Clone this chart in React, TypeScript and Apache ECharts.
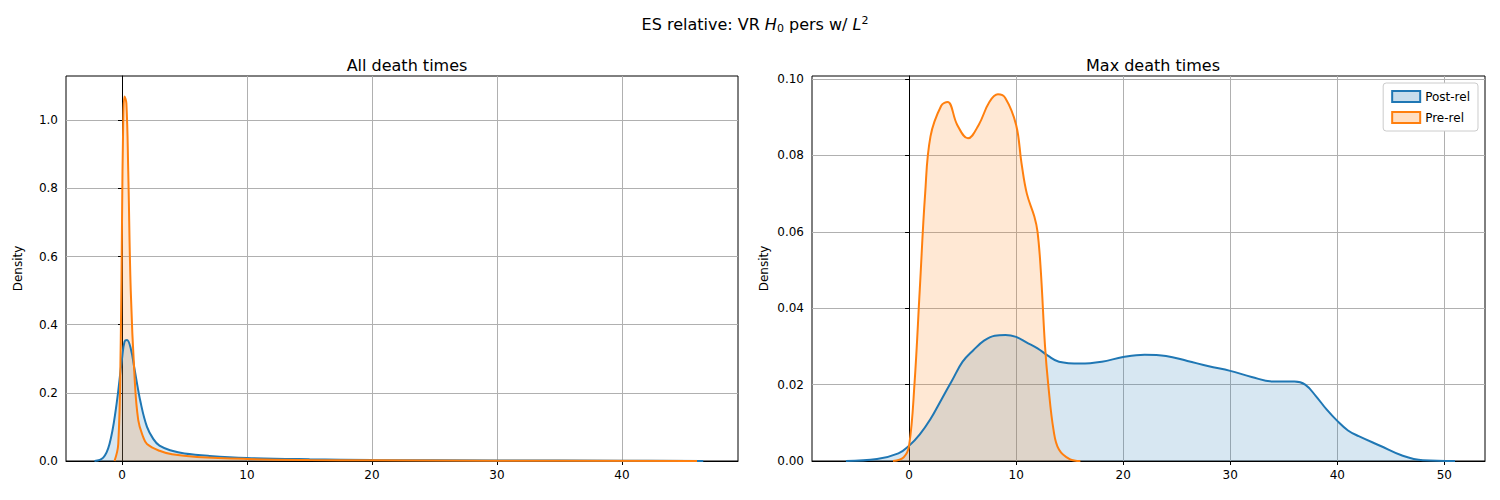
import React, { useEffect, useRef } from 'react';
import * as echarts from 'echarts';

// left panel: all death times
const allPostX = [-2.2, -1.5, -1, -0.5, 0, 0.2, 0.4, 0.7, 1, 1.5, 2, 2.5, 3, 4, 5, 7, 10, 15, 20, 30, 40, 46.5];
const allPostY = [0, 0.01, 0.05, 0.15, 0.3, 0.35, 0.355, 0.33, 0.27, 0.17, 0.1, 0.065, 0.045, 0.03, 0.022, 0.015, 0.009, 0.005, 0.003, 0.0015, 0.001, 0];
const allPreX = [-0.6, -0.3, -0.1, 0, 0.1, 0.2, 0.35, 0.5, 0.7, 1, 1.3, 1.7, 2, 3, 4, 6, 10, 15, 20, 30, 46];
const allPreY = [0, 0.05, 0.35, 0.7, 1.0, 1.07, 1.05, 0.85, 0.5, 0.25, 0.12, 0.07, 0.05, 0.03, 0.02, 0.012, 0.006, 0.003, 0.002, 0.001, 0];

// right panel: max death times
const maxPostX = [-5.9, -3, -1, 0, 1, 2, 3, 4, 5, 6, 7, 8, 9, 10, 11, 12, 13, 14, 16, 18, 20, 22, 24, 26, 28, 30, 32, 34, 36, 37, 38, 39, 40, 41, 42, 44, 46, 48, 51];
const maxPostY = [0, 0.0005, 0.002, 0.004, 0.007, 0.011, 0.016, 0.021, 0.026, 0.029, 0.0315, 0.0328, 0.033, 0.0325, 0.031, 0.0295, 0.0275, 0.026, 0.0255, 0.026, 0.0272, 0.0278, 0.0275, 0.0262, 0.0248, 0.0236, 0.022, 0.0208, 0.0208, 0.02, 0.017, 0.0135, 0.0105, 0.008, 0.0065, 0.004, 0.0015, 0.0002, 0];
const maxPreX = [-1.5, -0.5, 0, 0.5, 1, 1.5, 2, 3, 3.6, 4.5, 5.5, 6.5, 7.5, 8.3, 9, 10, 10.5, 11, 11.7, 12, 12.3, 12.7, 13, 13.5, 14, 15, 16];
const maxPreY = [0, 0.001, 0.004, 0.02, 0.045, 0.07, 0.085, 0.093, 0.094, 0.088, 0.0845, 0.088, 0.094, 0.096, 0.095, 0.088, 0.078, 0.07, 0.064, 0.06, 0.05, 0.03, 0.02, 0.008, 0.003, 0.0005, 0];

const leftXTicks = [0, 10, 20, 30, 40];
const leftYTicks = [0, 0.2, 0.4, 0.6, 0.8, 1.0];
const rightXTicks = [0, 10, 20, 30, 40, 50];
const rightYTicks = [0, 0.02, 0.04, 0.06, 0.08, 0.1];

const BLUE = '#1f77b4';
const ORANGE = '#ff7f0e';
const BLUE_FILL = 'rgba(31,119,180,0.25)';
const ORANGE_FILL = 'rgba(255,127,14,0.25)';

const zip = (xs: number[], ys: number[]) => xs.map((x, i) => [x, ys[i]]);

export default function App() {
  const ref = useRef<HTMLDivElement>(null);
  useEffect(() => {
    if (!ref.current) return;
    const chart = echarts.init(ref.current, null, { renderer: 'svg' });
    const font = 'DejaVu Sans';
    const xAxis = (idx: number, min: number, max: number, ticks: number[]) => ({
      type: 'value', gridIndex: idx, min, max,
      axisLine: { show: true, onZero: false, lineStyle: { color: '#000' } },
      axisTick: { show: true, customValues: ticks, length: 4, lineStyle: { color: '#000' } },
      axisLabel: { customValues: ticks, color: '#000', fontSize: 12, fontFamily: font },
      splitLine: { show: true, lineStyle: { color: '#b0b0b0' } },
    });
    const yAxis = (idx: number, max: number, ticks: number[], fmt: (v: number) => string) => ({
      type: 'value', gridIndex: idx, min: 0, max,
      name: 'Density', nameLocation: 'middle', nameGap: 42,
      nameTextStyle: { color: '#000', fontSize: 12, fontFamily: font },
      axisLine: { show: true, lineStyle: { color: '#000' } },
      axisTick: { show: true, customValues: ticks, length: 4, lineStyle: { color: '#000' } },
      axisLabel: { customValues: ticks, color: '#000', fontSize: 12, fontFamily: font, formatter: fmt },
      splitLine: { show: true, lineStyle: { color: '#b0b0b0' } },
    });
    const series = (name: string, idx: number, data: number[][], color: string, fill: string) => ({
      name, type: 'line', xAxisIndex: idx, yAxisIndex: idx, data, smooth: 0.4,
      showSymbol: false, symbol: 'none',
      lineStyle: { color, width: 2 }, itemStyle: { color },
      areaStyle: { color: fill, origin: 'start' },
    });
    chart.setOption({
      animation: false,
      textStyle: { fontFamily: font },
      title: [
        {
          text: 'ES relative: VR {i|H}{s|0} pers w/ {i|L}{p|2}', left: 750, top: 10, textAlign: 'center',
          textStyle: {
            fontSize: 16, fontWeight: 'normal', color: '#000',
            rich: {
              i: { fontStyle: 'italic', fontSize: 16 },
              s: { fontSize: 11, verticalAlign: 'bottom', padding: [8, 0, 0, 0] },
              p: { fontSize: 11, verticalAlign: 'top', padding: [0, 0, 8, 0] },
            },
          },
        },
        { text: 'All death times', left: 402, top: 52, textAlign: 'center', textStyle: { fontSize: 16, fontWeight: 'normal', color: '#000' } },
        { text: 'Max death times', left: 1148, top: 52, textAlign: 'center', textStyle: { fontSize: 16, fontWeight: 'normal', color: '#000' } },
      ],
      legend: {
        orient: 'vertical', right: 22, top: 83, icon: 'rect', itemWidth: 28, itemHeight: 11,
        itemGap: 8, padding: [7, 8, 7, 8],
        backgroundColor: '#fff', borderColor: '#ccc', borderWidth: 1, borderRadius: 3,
        textStyle: { color: '#000', fontSize: 12 },
        data: [
          { name: 'Post-rel', itemStyle: { color: BLUE_FILL, borderColor: BLUE, borderWidth: 2 } },
          { name: 'Pre-rel', itemStyle: { color: ORANGE_FILL, borderColor: ORANGE, borderWidth: 2 } },
        ],
      },
      grid: [
        { left: 66, top: 76, width: 672, height: 385, show: true, borderColor: '#000', borderWidth: 1 },
        { left: 812, top: 76, width: 673, height: 385, show: true, borderColor: '#000', borderWidth: 1 },
      ],
      xAxis: [xAxis(0, -4.48, 49.28, leftXTicks), xAxis(1, -9.07, 53.8, rightXTicks)],
      yAxis: [
        yAxis(0, 1.13, leftYTicks, (v: number) => v.toFixed(1)),
        yAxis(1, 0.1008, rightYTicks, (v: number) => v.toFixed(2)),
      ],
      series: [
        series('Post-rel', 0, zip(allPostX, allPostY), BLUE, BLUE_FILL),
        series('Pre-rel', 0, zip(allPreX, allPreY), ORANGE, ORANGE_FILL),
        series('Post-rel', 1, zip(maxPostX, maxPostY), BLUE, BLUE_FILL),
        series('Pre-rel', 1, zip(maxPreX, maxPreY), ORANGE, ORANGE_FILL),
      ],
    });
    return () => chart.dispose();
  }, []);
  return <div ref={ref} style={{ position: 'fixed', left: 0, top: 0, width: 1500, height: 500, background: '#fff' }} />;
}
